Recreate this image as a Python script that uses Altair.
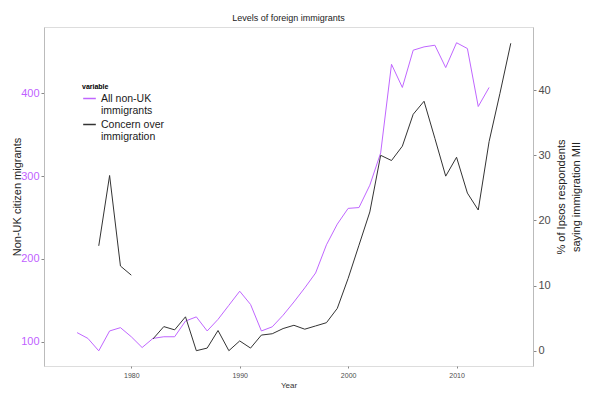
import altair as alt
import pandas as pd
import numpy as np

# Non-UK citizen immigrants (thousands), 1975-2013
imm_years = list(range(1975, 2014))
immigrants = [111, 104, 89, 113, 117, 106, 93, 104, 106, 106,
              125, 130, 113, 127, 144, 161, 145, 113, 118, 132,
              148, 165, 183, 217, 242, 261, 262, 289, 328, 435,
              407, 452, 456, 458, 431, 461, 454, 384, 407]
# % Ipsos respondents saying immigration is most important issue
con_years = [1977, 1978, 1979, 1980] + list(range(1982, 2016))
concern = [16.1, 26.9, 13.0, 11.6,
           1.8, 3.7, 3.2, 5.2, 0.0, 0.4, 3.1, 0.0, 1.5, 0.4,
           2.4, 2.6, 3.4, 3.9, 3.3, 3.8, 4.3, 6.5, 11.1, 16.2,
           21.3, 30.0, 29.2, 31.4, 36.3, 38.3, 32.6, 26.8, 29.7, 24.2,
           21.6, 32.1, 39.5, 47.2]

series = ["All non-UK immigrants", "Concern over immigration"]
colors = ["#C066FF", "#333333"]

df_imm = pd.DataFrame({"year": imm_years, "value": immigrants, "variable": series[0]})
df_con = pd.DataFrame({"year": con_years, "value": concern, "variable": series[1]})

FONT = "Liberation Sans"
xscale = alt.Scale(domain=[1971.95, 2017.05], nice=False, zero=False)
color = alt.Color("variable:N",
                  scale=alt.Scale(domain=series, range=colors),
                  legend=alt.Legend(
                      title="variable", orient="none", legendX=38, legendY=56,
                      titleFontSize=7, titleFontWeight="bold", titleFont=FONT,
                      titleColor="#000000", titlePadding=1,
                      labelFont=FONT, labelFontSize=10.5, labelColor="#1a1a1a",
                      labelExpr="datum.label == 'All non-UK immigrants' ? ['All non-UK', 'immigrants'] : ['Concern over', 'immigration']",
                      symbolType="stroke", symbolSize=160, symbolStrokeWidth=1.5,
                      rowPadding=0, labelOffset=4))

xaxis = alt.Axis(title="Year", values=[1980, 1990, 2000, 2010], format="d",
                 grid=False, domain=False, tickSize=2, tickColor="#888888",
                 labelFontSize=7, labelColor="#4D4D4D", labelFont=FONT,
                 titleFontSize=8, titleFont=FONT, titleFontWeight="normal",
                 titleColor="#333333", labelPadding=3, titlePadding=3)

left = alt.Chart(df_imm).mark_line(strokeWidth=1).encode(
    x=alt.X("year:Q", scale=xscale, axis=xaxis),
    y=alt.Y("value:Q", scale=alt.Scale(domain=[70.7, 480], nice=False, zero=False),
            axis=alt.Axis(title="Non-UK citizen migrants", values=[100, 200, 300, 400],
                          grid=False, domainColor="#BBBBBB", tickColor="#888888", tickSize=3,
                          labelColor="#BF5FFF", labelFontSize=11, labelFont=FONT,
                          labelPadding=2,
                          titleFontSize=11, titleFont=FONT, titleFontWeight="normal",
                          titleColor="#222222", titleAngle=270, titleX=-22, titleY=169.5,
                          titleBaseline="bottom", titleAlign="center")),
    color=color,
)

right = alt.Chart(df_con).transform_calculate(
    seg="datum.year < 1981 ? 'a' : 'b'"
).mark_line(strokeWidth=1).encode(
    x=alt.X("year:Q", scale=xscale),
    y=alt.Y("value:Q", scale=alt.Scale(domain=[-2.35, 49.7], nice=False, zero=False),
            axis=alt.Axis(orient="right", title=["% of Ipsos respondents", "saying immigration MII"],
                          values=[0, 10, 20, 30, 40], grid=False, domainColor="#BBBBBB",
                          tickColor="#888888", tickSize=3, labelColor="#4D4D4D",
                          labelFontSize=11, labelFont=FONT, labelPadding=2,
                          titleFontSize=11, titleFont=FONT, titleFontWeight="normal",
                          titleColor="#222222", titleAngle=270, titleX=28, titleY=169.5,
                          titleBaseline="middle", titleAlign="center", titleLineHeight=15)),
    color=color,
    detail="seg:N",
)

chart = alt.layer(left, right).resolve_scale(y="independent").properties(
    width=489, height=339,
    title=alt.TitleParams("Levels of foreign immigrants", fontSize=9, font=FONT,
                          fontWeight="normal", color="#222222", offset=4, anchor="middle"),
    autosize=alt.AutoSizeParams(type="none"),
    padding={"left": 36, "top": 19, "right": 64, "bottom": 23},
).configure_view(stroke="#BBBBBB", strokeWidth=1).configure(background="white")

chart.save("out.html", embed_options={"renderer": "svg", "actions": False})
